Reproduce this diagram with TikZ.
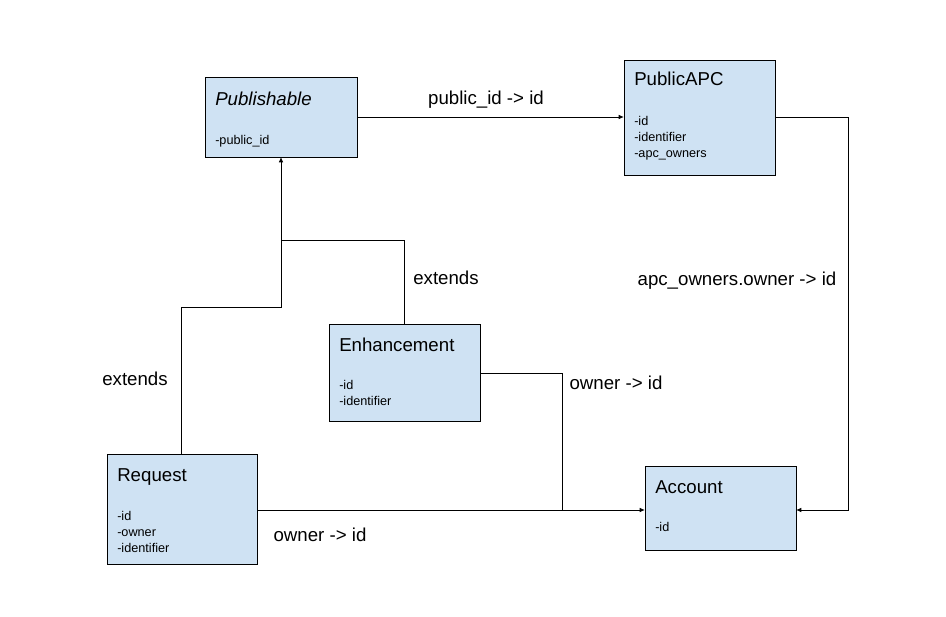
\documentclass[tikz,border=0pt]{standalone}
\usepackage{fontspec}
\setmainfont{Liberation Sans}
\usetikzlibrary{arrows.meta,calc}

\begin{document}
\begin{tikzpicture}[x=0.75pt,y=-0.75pt,
    entity/.style={draw=black,fill=boxblue,line width=0.6pt,rectangle,inner sep=0pt,outer sep=0pt,anchor=north west},
    title/.style={anchor=base west,inner sep=0pt,font=\fontsize{14}{16}\selectfont},
    attrs/.style={anchor=base west,inner sep=0pt,align=left,font=\fontsize{9.5}{12}\selectfont},
    rel/.style={font=\fontsize{14}{16}\selectfont},
    link/.style={line width=0.75pt,-{Latex[length=4pt,width=3.5pt]}},
    plain/.style={line width=0.75pt}]
  \definecolor{boxblue}{HTML}{CFE2F3}
  \useasboundingbox (0,0) rectangle (946,617);
  % boxes
  \node[entity,minimum width=114pt,minimum height=60pt] (publishable) at (205,77) {};
  \node[entity,minimum width=113.25pt,minimum height=86.25pt] (publicapc) at (624,60) {};
  \node[entity,minimum width=113.25pt,minimum height=72.75pt] (enhancement) at (329,324) {};
  \node[entity,minimum width=112.5pt,minimum height=82.5pt] (request) at (107,454) {};
  \node[entity,minimum width=113.25pt,minimum height=63pt] (account) at (645,466) {};
  % texts (attrs sit on the baseline of their last line)
  \node[title] (publishable-t) at ($(publishable.north west)+(10,28)$) {\itshape Publishable};
  \node[attrs] (publishable-a) at ($(publishable.north west)+(10,67)$) {-public\_id};
  \node[title] (publicapc-t) at ($(publicapc.north west)+(10,26)$) {PublicAPC};
  \node[attrs] (publicapc-a) at ($(publicapc.north west)+(10,97)$) {-id\\-identifier\\-apc\_owners};
  \node[title] (enhancement-t) at ($(enhancement.north west)+(10,27)$) {Enhancement};
  \node[attrs] (enhancement-a) at ($(enhancement.north west)+(10,81)$) {-id\\-identifier};
  \node[title] (request-t) at ($(request.north west)+(10,27)$) {Request};
  \node[attrs] (request-a) at ($(request.north west)+(10,98)$) {-id\\-owner\\-identifier};
  \node[title] (account-t) at ($(account.north west)+(10,27)$) {Account};
  \node[attrs] (account-a) at ($(account.north west)+(10,65)$) {-id};
  % junctions
  \coordinate (ext) at (281,240);
  \coordinate (own) at (562,510);
  % connectors
  \draw[link] (publishable.east |- 0,117) -- (publicapc.west |- 0,117);
  \draw[link] (publicapc.east |- 0,117) -- (848,117) -- (848,510) -- (account.east |- 0,510);
  \draw[link] (request.north -| 181,0) -- (181,307) -- (281,307) -- (publishable.south -| 281,0);
  \draw[plain] (enhancement.north -| 404,0) -- (404,240) -- (ext);
  \draw[link] (request.east |- 0,510) -- (account.west |- 0,510);
  \draw[plain] (enhancement.east |- 0,373) -- (562,373) -- (own);
  % labels
  \node[rel] (l1) at (486,100) {public\_id -> id};
  \node[rel] (l2) at (737,281) {apc\_owners.owner -> id};
  \node[rel] (l3) at (135,379) {extends};
  \node[rel] (l4) at (446,278) {extends};
  \node[rel] (l5) at (320,535) {owner -> id};
  \node[rel] (l6) at (616,383) {owner -> id};
\end{tikzpicture}
\end{document}
